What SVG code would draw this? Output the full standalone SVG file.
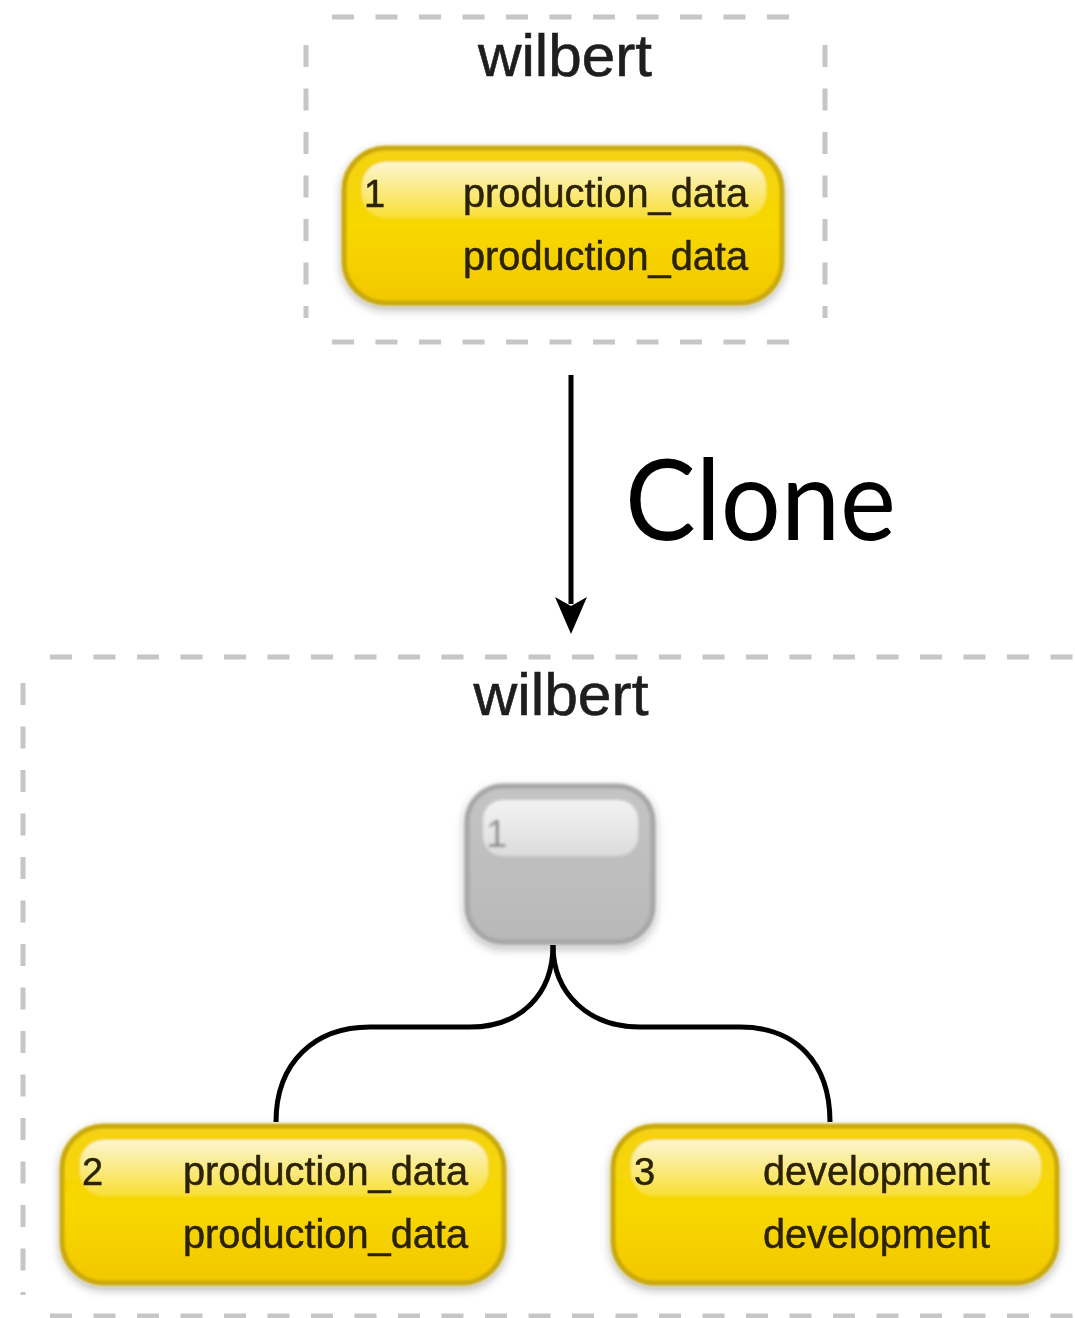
<svg xmlns="http://www.w3.org/2000/svg" width="1075" height="1318" viewBox="0 0 1075 1318">
<style>
.dash{stroke:#c6c6c6;stroke-width:5;stroke-dasharray:22 21.5;fill:none}
.title{font-family:"Liberation Sans",Arial,sans-serif;font-size:60px;fill:#1e1e1e;stroke:#1e1e1e;stroke-width:0.6;text-anchor:middle}
.lbl{font-family:"Liberation Sans",Arial,sans-serif;font-size:40px;fill:#2a2200;stroke:#2a2200;stroke-width:0.5}
.num{font-family:"Liberation Sans",Arial,sans-serif;font-size:38px;fill:#2a2200;stroke:#2a2200;stroke-width:0.5}
.conn{stroke:#000;stroke-width:5;fill:none}
.ybody{fill:url(#yg);stroke:#c9a90a;stroke-width:5}
.gbody{fill:url(#gg);stroke:#a5a5a5;stroke-width:5}
</style>
<defs>
<linearGradient id="yg" x1="0" y1="0" x2="0" y2="1">
<stop offset="0" stop-color="#f4d214"/>
<stop offset="0.5" stop-color="#f8d800"/>
<stop offset="1" stop-color="#f2c800"/>
</linearGradient>
<linearGradient id="yh" x1="0" y1="0" x2="0" y2="1">
<stop offset="0" stop-color="#ffffff" stop-opacity="0.8"/>
<stop offset="1" stop-color="#ffffff" stop-opacity="0.2"/>
</linearGradient>
<linearGradient id="gg" x1="0" y1="0" x2="0" y2="1">
<stop offset="0" stop-color="#c4c4c4"/>
<stop offset="1" stop-color="#b8b8b8"/>
</linearGradient>
<linearGradient id="gh" x1="0" y1="0" x2="0" y2="1">
<stop offset="0" stop-color="#ffffff" stop-opacity="0.8"/>
<stop offset="1" stop-color="#ffffff" stop-opacity="0.45"/>
</linearGradient>
<filter id="sh" x="-20%" y="-20%" width="140%" height="150%">
<feGaussianBlur in="SourceAlpha" stdDeviation="5"/>
<feOffset dx="0" dy="4" result="b"/>
<feFlood flood-color="#000" flood-opacity="0.3"/>
<feComposite in2="b" operator="in"/>
<feMerge><feMergeNode/><feMergeNode in="SourceGraphic"/></feMerge>
</filter>
<filter id="soft"><feGaussianBlur stdDeviation="1"/></filter>
<filter id="blur"><feGaussianBlur stdDeviation="1.5"/></filter>
</defs>
<rect width="1075" height="1318" fill="#ffffff"/>

<g id="cluster-top">
<line class="dash" x1="332" y1="17" x2="800" y2="17"/>
<line class="dash" x1="332" y1="342" x2="800" y2="342"/>
<line class="dash" x1="306" y1="45" x2="306" y2="318"/>
<line class="dash" x1="825" y1="45" x2="825" y2="318"/>
<text class="title" x="565" y="76" textLength="174" lengthAdjust="spacingAndGlyphs">wilbert</text>
</g>

<g id="cluster-bottom">
<line class="dash" x1="50" y1="657" x2="1075" y2="657"/>
<line class="dash" x1="50" y1="1316" x2="1075" y2="1316"/>
<line class="dash" x1="23" y1="683" x2="23" y2="1295"/>
<text class="title" x="561" y="715" textLength="175" lengthAdjust="spacingAndGlyphs">wilbert</text>
</g>

<g id="node-1-top" filter="url(#sh)">
<g filter="url(#soft)">
<rect class="ybody" x="344" y="148" width="438" height="155" rx="42"/>
<rect x="362" y="162" width="404" height="56" rx="24" fill="url(#yh)"/>
</g>
<text class="num" x="364" y="207">1</text>
<text class="lbl" x="463" y="207" textLength="285" lengthAdjust="spacingAndGlyphs">production_data</text>
<text class="lbl" x="463" y="270" textLength="285" lengthAdjust="spacingAndGlyphs">production_data</text>
</g>

<g id="node-1-gray" filter="url(#sh)">
<g filter="url(#blur)">
<rect class="gbody" x="467" y="786" width="186" height="156" rx="36"/>
<rect x="483" y="800" width="155" height="56" rx="20" fill="url(#gh)"/>
<text x="486" y="847" font-family="Liberation Sans,Arial,sans-serif" font-size="38" fill="#8a8a8a">1</text>
</g>
</g>

<g id="node-2" filter="url(#sh)">
<g filter="url(#soft)">
<rect class="ybody" x="62" y="1126" width="442" height="157" rx="42"/>
<rect x="80" y="1140" width="408" height="56" rx="24" fill="url(#yh)"/>
</g>
<text class="num" x="82" y="1185">2</text>
<text class="lbl" x="183" y="1185" textLength="285" lengthAdjust="spacingAndGlyphs">production_data</text>
<text class="lbl" x="183" y="1248" textLength="285" lengthAdjust="spacingAndGlyphs">production_data</text>
</g>

<g id="node-3" filter="url(#sh)">
<g filter="url(#soft)">
<rect class="ybody" x="613" y="1126" width="444" height="157" rx="42"/>
<rect x="631" y="1140" width="410" height="56" rx="24" fill="url(#yh)"/>
</g>
<text class="num" x="634" y="1185">3</text>
<text class="lbl" x="763" y="1185" textLength="227" lengthAdjust="spacingAndGlyphs">development</text>
<text class="lbl" x="763" y="1248" textLength="227" lengthAdjust="spacingAndGlyphs">development</text>
</g>

<g id="connectors">
<line class="conn" x1="571" y1="375" x2="571" y2="604"/>
<path d="M555,597 L571,606 L587,597 L571,634 Z" fill="#000"/>
<path class="conn" d="M553,945 C553,995 520,1027 470,1027 L370,1027 C315,1027 276,1062 276,1122"/>
<path class="conn" d="M553,945 C553,995 590,1027 640,1027 L740,1027 C795,1027 830,1062 830,1122"/>
</g>

<g id="label-clone">
<text x="625" y="540" font-family="Lato,'Open Sans',sans-serif" font-size="112" fill="#000" textLength="271" lengthAdjust="spacingAndGlyphs">Clone</text>
</g>
</svg>
